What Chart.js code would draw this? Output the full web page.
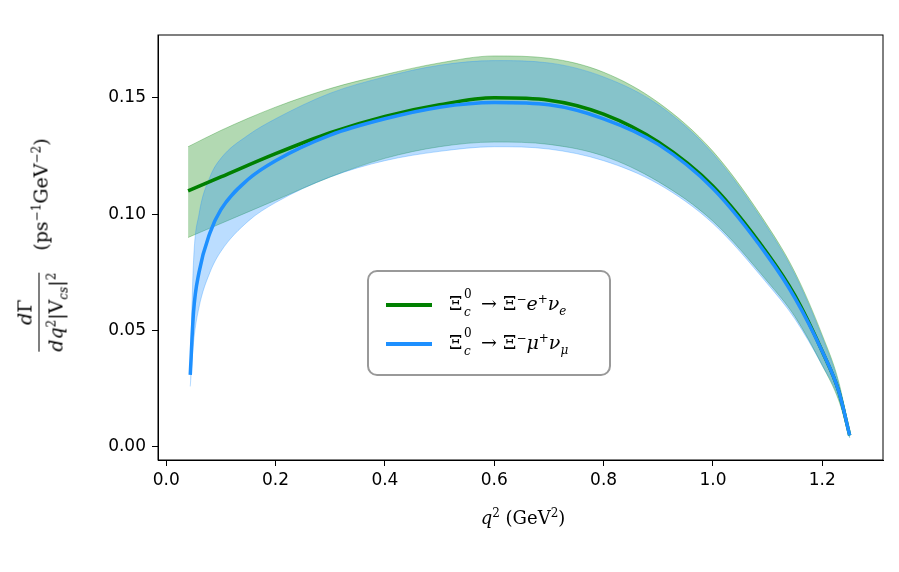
<!DOCTYPE html>
<html>
<head>
<meta charset="utf-8">
<script src="https://cdn.jsdelivr.net/npm/chart.js@4"></script>
<style>
  body { margin: 0; background: #fff; font-family: "DejaVu Sans", sans-serif; }
  #wrap { position: relative; width: 899px; height: 572px; }
  .serif { font-family: "DejaVu Serif", serif; }
  sub, sup { font-size: 12px; line-height: 0; }
  #legend { position: absolute; left: 367px; top: 270px; width: 244px; height: 106px; border: 2px solid #999; border-radius: 10px; background: rgba(255,255,255,0.85); box-sizing: border-box; font-size: 19px; }
  .row { position: absolute; left: 17px; height: 30px; line-height: 30px; white-space: nowrap; }
  .sw { display: inline-block; width: 46px; height: 4px; margin-right: 17px; vertical-align: middle; }
  .xi { display: inline-block; position: relative; width: 26px; }
  .xi sup { position: absolute; left: 15px; top: 6px; }
  .xi sub { position: absolute; left: 15px; top: 24px; font-style: italic; }
  #ylab { position: absolute; left: 40px; top: 245px; transform: translate(-50%,-50%) rotate(-90deg); display: flex; align-items: center; white-space: nowrap; font-size: 19px; }
  .frac { display: inline-block; text-align: center; margin-right: 22px; }
  #xlab { position: absolute; left: 523px; top: 507px; transform: translateX(-50%); font-size: 18px; white-space: nowrap; }
</style>
</head>
<body>
<div id="wrap">
<canvas id="c" width="899" height="572"></canvas>
<div id="legend" class="serif">
  <div class="row" style="top:16px"><span class="sw" style="background:#008000"></span><span class="xi">Ξ<sup>0</sup><sub>c</sub></span> → Ξ<sup>−</sup><i>e</i><sup>+</sup><i>ν</i><sub><i>e</i></sub></div>
  <div class="row" style="top:55px"><span class="sw" style="background:#1e90ff"></span><span class="xi">Ξ<sup>0</sup><sub>c</sub></span> → Ξ<sup>−</sup><i>μ</i><sup>+</sup><i>ν</i><sub><i>μ</i></sub></div>
</div>
<div id="ylab" class="serif">
  <span class="frac"><div style="border-bottom:1.5px solid #000;padding:0 4px 3px"><i>d</i>Γ</div><div style="padding-top:5px"><i>dq</i><sup>2</sup>|V<sub><i>cs</i></sub>|<sup>2</sup></div></span>
  <span>(ps<sup>−1</sup>GeV<sup>−2</sup>)</span>
</div>
<div id="xlab" class="serif"><i>q</i><sup>2</sup> (GeV<sup>2</sup>)</div>
</div>
<script>
const xE = [0.04, 0.1, 0.2, 0.3, 0.4, 0.5, 0.6, 0.7, 0.8, 0.9, 1.0, 1.1, 1.15, 1.2, 1.23, 1.25];
const eMid = [0.110, 0.116, 0.126, 0.135, 0.142, 0.147, 0.150, 0.149, 0.143, 0.131, 0.112, 0.083, 0.065, 0.041, 0.024, 0.005];
const eUp  = [0.129, 0.136, 0.146, 0.154, 0.160, 0.165, 0.168, 0.167, 0.161, 0.148, 0.127, 0.095, 0.075, 0.048, 0.028, 0.006];
const eLo  = [0.090, 0.096, 0.106, 0.116, 0.124, 0.129, 0.131, 0.130, 0.125, 0.114, 0.097, 0.071, 0.056, 0.035, 0.020, 0.004];

const xM = [0.044, 0.05, 0.06, 0.08, 0.1, 0.15, 0.2, 0.3, 0.4, 0.5, 0.6, 0.7, 0.8, 0.9, 1.0, 1.1, 1.15, 1.2, 1.23, 1.25];
const mMid = [0.031, 0.058, 0.075, 0.092, 0.102, 0.115, 0.123, 0.134, 0.141, 0.146, 0.148, 0.147, 0.141, 0.130, 0.111, 0.082, 0.064, 0.041, 0.024, 0.005];
const mUp  = [0.035, 0.080, 0.100, 0.116, 0.124, 0.134, 0.141, 0.152, 0.159, 0.164, 0.166, 0.165, 0.159, 0.147, 0.126, 0.094, 0.074, 0.047, 0.027, 0.006];
const mLo  = [0.026, 0.045, 0.060, 0.075, 0.084, 0.097, 0.105, 0.116, 0.123, 0.127, 0.129, 0.128, 0.123, 0.113, 0.096, 0.070, 0.055, 0.035, 0.021, 0.004];

const xTicks = [0, 0.2, 0.4, 0.6, 0.8, 1.0, 1.2];
const yTicks = [0, 0.05, 0.10, 0.15];

const pts = (xs, ys) => xs.map((x, i) => ({ x, y: ys[i] }));
const line = (data, color, width, fill, bg) => ({
  data, borderColor: color, borderWidth: width, fill: fill, backgroundColor: bg,
  pointRadius: 0, cubicInterpolationMode: 'monotone'
});

const frame = {
  id: 'frame',
  afterDraw(chart) {
    const { ctx, chartArea: a } = chart;
    ctx.save();
    ctx.strokeStyle = '#000'; ctx.lineWidth = 1;
    ctx.strokeRect(a.left, a.top, a.right - a.left, a.bottom - a.top);
    ctx.restore();
  }
};

const tickFont = { family: 'DejaVu Sans', size: 17 };

// lower index = drawn on top
new Chart(document.getElementById('c'), {
  type: 'line',
  data: {
    datasets: [
      line(pts(xM, mMid), '#1e90ff', 3.5, false),
      line(pts(xE, eMid), '#008000', 3.5, false),
      line(pts(xM, mLo), 'rgba(30,144,255,0.3)', 1, false),
      line(pts(xM, mUp), 'rgba(30,144,255,0.3)', 1, 2, 'rgba(30,144,255,0.3)'),
      line(pts(xE, eLo), 'rgba(0,128,0,0.3)', 1, false),
      line(pts(xE, eUp), 'rgba(0,128,0,0.3)', 1, 4, 'rgba(0,128,0,0.3)')
    ]
  },
  options: {
    responsive: false, animation: false,
    layout: { padding: { top: 35, right: 16, left: 0, bottom: 0 } },
    plugins: { legend: { display: false }, tooltip: { enabled: false } },
    scales: {
      x: {
        type: 'linear', min: -0.015, max: 1.311,
        afterBuildTicks: s => { s.ticks = xTicks.map(v => ({ value: v })); },
        afterFit: s => { s.height = 112; },
        ticks: { color: '#000', font: tickFont, callback: v => v.toFixed(1), maxRotation: 0, padding: 4 },
        grid: { drawOnChartArea: false, tickLength: 6, color: '#000' },
        border: { color: '#000' }
      },
      y: {
        type: 'linear', min: -0.0056, max: 0.177,
        afterBuildTicks: s => { s.ticks = yTicks.map(v => ({ value: v })); },
        afterFit: s => { s.width = 158; },
        ticks: { color: '#000', font: tickFont, callback: v => v.toFixed(2), padding: 6 },
        grid: { drawOnChartArea: false, tickLength: 6, color: '#000' },
        border: { color: '#000' }
      }
    }
  },
  plugins: [frame]
});
</script>
</body>
</html>
